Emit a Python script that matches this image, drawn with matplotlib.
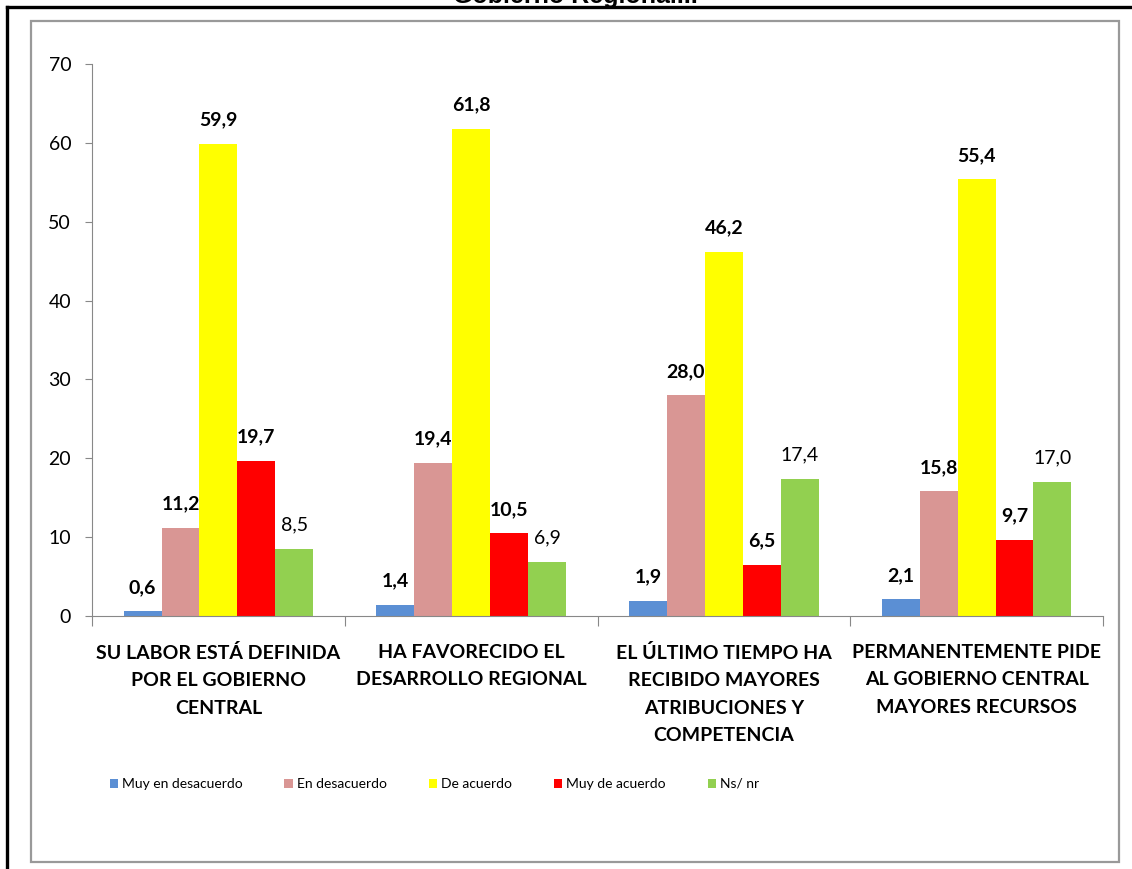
import numpy as np
import matplotlib.pyplot as plt
from matplotlib.patches import Rectangle
from matplotlib.lines import Line2D

categorias = ['SU LABOR ESTÁ DEFINIDA\nPOR EL GOBIERNO\nCENTRAL',
              'HA FAVORECIDO EL\nDESARROLLO REGIONAL',
              'EL ÚLTIMO TIEMPO HA\nRECIBIDO MAYORES\nATRIBUCIONES Y\nCOMPETENCIA',
              'PERMANENTEMENTE PIDE\nAL GOBIERNO CENTRAL\nMAYORES RECURSOS']
series = ['Muy en desacuerdo', 'En desacuerdo', 'De acuerdo', 'Muy de acuerdo', 'Ns/ nr']
muy_desacuerdo = [0.6, 1.4, 1.9, 2.1]
en_desacuerdo = [11.2, 19.4, 28.0, 15.8]
de_acuerdo = [59.9, 61.8, 46.2, 55.4]
muy_acuerdo = [19.7, 10.5, 6.5, 9.7]
ns_nr = [8.5, 6.9, 17.4, 17.0]
colores = ['#5B8FD4', '#D99694', '#FFFF00', '#FF0000', '#92D050']
negrita = [True, True, True, True, False]

plt.rcParams['font.family'] = ['Lato', 'DejaVu Sans']

W, H = 1132, 869
fig = plt.figure(figsize=(W / 100, H / 100), dpi=100)

# marcos
fig.add_artist(Line2D([7 / W, 7 / W], [0, 1 - 7 / H], color='black', lw=2.4))
fig.add_artist(Line2D([7 / W, 1], [1 - 7 / H, 1 - 7 / H], color='black', lw=2.4))
fig.add_artist(Rectangle((31 / W, 1 - 862 / H), (1119 - 31) / W, (862 - 21) / H,
                         fill=False, edgecolor='#999999', lw=1.6))
fig.text(575 / W, 1 - 3 / H, 'Gobierno Regional...', ha='center', va='baseline',
         fontsize=18, fontweight='bold', family='Liberation Sans')

ax = fig.add_axes([92 / W, 1 - 616 / H, (1103 - 92) / W, (616 - 64) / H])
datos = [muy_desacuerdo, en_desacuerdo, de_acuerdo, muy_acuerdo, ns_nr]
x = np.arange(len(categorias))
bw = 0.15
for i, (vals, c) in enumerate(zip(datos, colores)):
    pos = x + (i - 2) * bw
    ax.bar(pos, vals, bw, color=c, label=series[i])
    for p, v in zip(pos, vals):
        ax.annotate(f'{v:.1f}'.replace('.', ','), (p, v), xytext=(0, 11),
                    textcoords='offset points', ha='center', va='bottom',
                    fontsize=14, fontweight='bold' if negrita[i] else 'normal')

ax.set_xlim(-0.5, 3.5)
ax.set_ylim(0, 70)
ax.set_yticks(range(0, 71, 10))
ax.tick_params(axis='y', labelsize=14, length=5, color='#888888', pad=10)
ax.set_xticks(np.arange(-0.5, 4, 1))
ax.set_xticklabels([])
ax.tick_params(axis='x', which='major', length=7, color='#888888')
ax.set_xticks(x, minor=True)
ax.set_xticklabels(categorias, minor=True, fontsize=14, fontweight='bold',
                   linespacing=1.75, va='top')
ax.tick_params(axis='x', which='minor', length=0, pad=20)
for s in ['top', 'right']:
    ax.spines[s].set_visible(False)
for s in ['left', 'bottom']:
    ax.spines[s].set_color('#888888')

fig.legend(loc='center left', bbox_to_anchor=(97 / W, 1 - 784 / H), ncol=5,
           frameon=False, fontsize=10, handlelength=0.6, handleheight=0.6,
           handletextpad=0.3, columnspacing=3.0)

fig.savefig('out.png', dpi=100)
